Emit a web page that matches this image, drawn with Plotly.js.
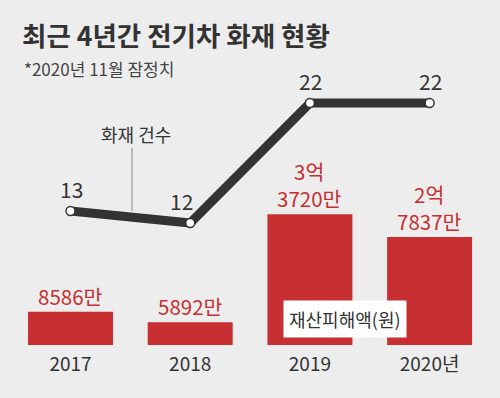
<!DOCTYPE html>
<html>
<head>
<meta charset="utf-8">
<script src="https://cdn.plot.ly/plotly-3.0.1.min.js"></script>
<style>html,body{margin:0;padding:0;background:#ededed;}#chart{width:500px;height:398px;}</style>
</head>
<body>
<div id="chart"></div>
<script>
// Data
const years = ['2017', '2018', '2019', '2020년'];
const damageManWon = [8586, 5892, 33720, 27837];   // 재산피해액 (만원)
const fireCounts = [13, 12, 22, 22];                 // 화재 건수

const NUM_FONT = '"Noto Sans CJK KR", sans-serif';
const KR_FONT = '"Noto Sans CJK KR", sans-serif';
const RED = '#c72f33';
const DARK = '#333333';

function fmtWon(v) {
  const eok = Math.floor(v / 10000);
  const man = v % 10000;
  return eok > 0 ? eok + '억<br>' + man + '만' : man + '만';
}

const bars = {
  type: 'bar', x: years, y: damageManWon, yaxis: 'y',
  marker: {color: RED}, width: 0.71, hoverinfo: 'skip', name: '재산피해액'
};
const line = {
  type: 'scatter', mode: 'lines+markers', x: years, y: fireCounts, yaxis: 'y2',
  line: {color: DARK, width: 9},
  marker: {size: 9, color: '#ffffff', line: {color: DARK, width: 1.5}},
  hoverinfo: 'skip', name: '화재 건수', cliponaxis: false
};

const annotations = [];
years.forEach((yr, i) => {
  annotations.push({
    x: i, y: damageManWon[i], xref: 'x', yref: 'y', text: fmtWon(damageManWon[i]),
    showarrow: false, yanchor: 'bottom', yshift: 0, borderpad: 0,
    font: {family: NUM_FONT, size: 20.5, color: RED}
  });
  annotations.push({
    x: i, y: fireCounts[i], xref: 'x', yref: 'y2', text: String(fireCounts[i]),
    showarrow: false, yanchor: 'bottom', yshift: 5, xshift: (i === 1 ? -9 : 1),
    font: {family: NUM_FONT, size: 21, color: DARK}
  });
});
annotations.push({
  xref: 'paper', yref: 'paper', x: 0.044, y: 1 - 69 / 345, xanchor: 'left', yanchor: 'middle',
  text: '*2020년 11월 잠정치', showarrow: false,
  font: {family: KR_FONT, size: 17, color: '#444444'}
});
annotations.push({
  xref: 'paper', yref: 'paper', x: 136 / 500, y: 1 - 134 / 345, xanchor: 'center', yanchor: 'middle',
  text: '화재 건수', showarrow: false,
  font: {family: KR_FONT, size: 18, color: DARK}
});
annotations.push({
  xref: 'paper', yref: 'paper', x: 344.5 / 500, y: 1 - 319 / 345, xanchor: 'center', yanchor: 'middle',
  text: '재산피해액(원)', showarrow: false, bgcolor: '#ffffff', borderpad: 5,
  font: {family: KR_FONT, size: 18, color: DARK}
});

const layout = {
  width: 500, height: 398,
  margin: {l: 0, r: 0, t: 0, b: 53},
  paper_bgcolor: '#ededed', plot_bgcolor: 'rgba(0,0,0,0)',
  showlegend: false,
  title: {
    text: '최근 4년간 전기차 화재 현황', x: 0.044, xanchor: 'left', xref: 'paper',
    y: 1 - 37 / 398, yref: 'container', yanchor: 'middle',
    font: {family: KR_FONT, size: 26.5, color: DARK, weight: 'bold'}
  },
  xaxis: {
    type: 'category', range: [-0.589, 3.588], showgrid: false, zeroline: false, showline: false,
    ticks: '', ticklabelstandoff: 6,
    tickfont: {family: NUM_FONT, size: 19, color: DARK}, fixedrange: true
  },
  yaxis: {range: [0, 89000], visible: false, fixedrange: true},
  yaxis2: {range: [22 / 12, 367 / 12], overlaying: 'y', visible: false, fixedrange: true},
  shapes: [{
    type: 'line', xref: 'paper', yref: 'paper', layer: 'below',
    x0: 132 / 500, x1: 132 / 500, y0: 1 - 148 / 345, y1: 1 - 211 / 345,
    line: {color: '#888888', width: 1}
  }],
  annotations: annotations
};

Plotly.newPlot('chart', [bars, line], layout, {displayModeBar: false, staticPlot: true});
</script>
</body>
</html>
